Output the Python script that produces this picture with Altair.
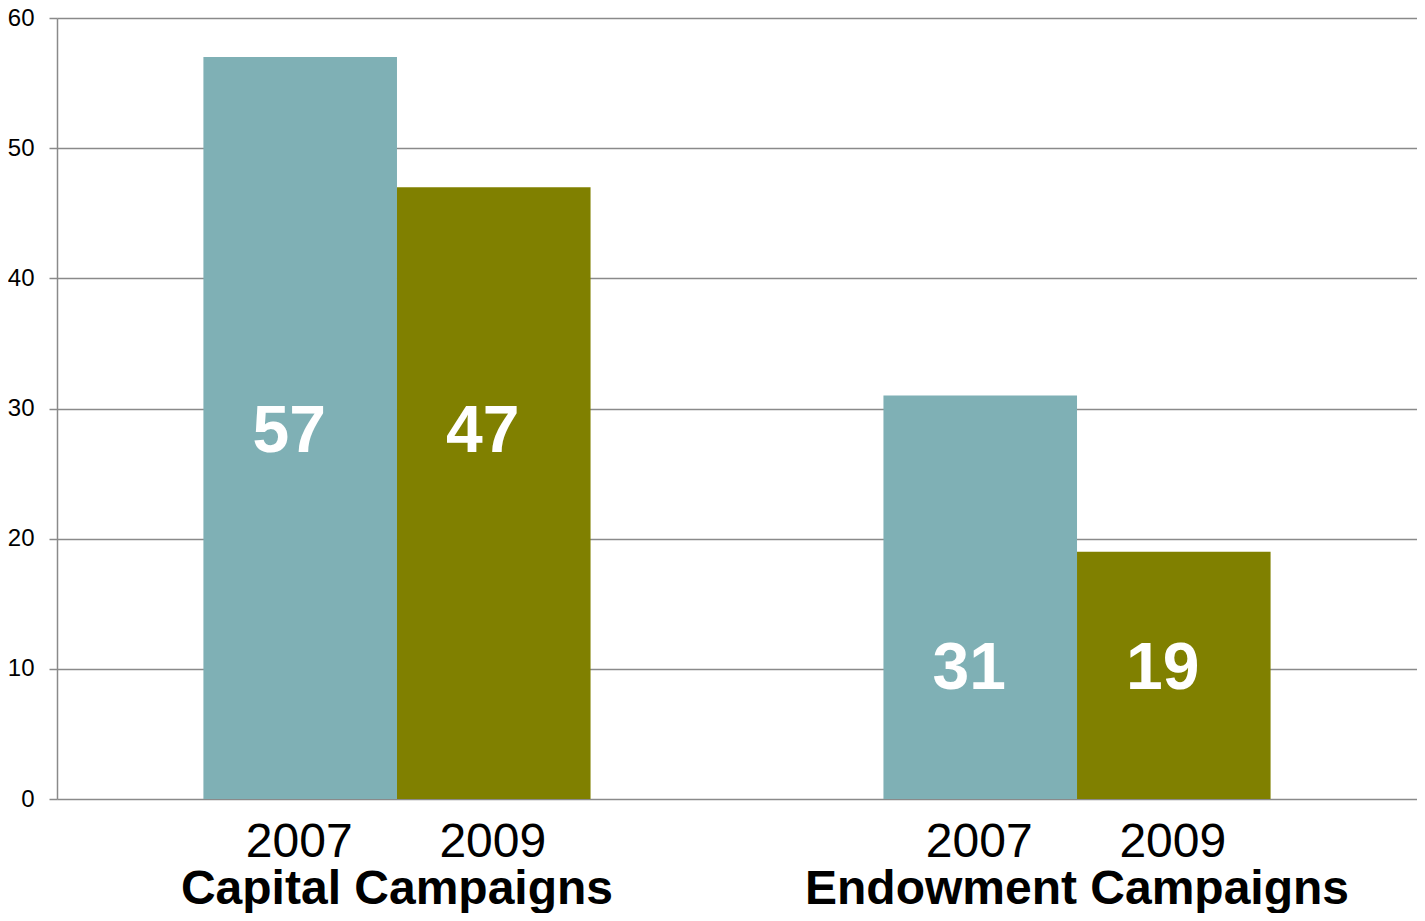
import altair as alt
import pandas as pd

groups = ["Capital Campaigns", "Capital Campaigns", "Endowment Campaigns", "Endowment Campaigns"]
years = ["2007", "2009", "2007", "2009"]
values = [57, 47, 31, 19]
label_pos = [28.2, 28.2, 10.0, 10.0]
y_ticks = [0, 10, 20, 30, 40, 50, 60]

df = pd.DataFrame({"group": groups, "year": years, "value": values, "label_pos": label_pos})

FONT = "Liberation Sans"
GRAY = "#8a8a8a"
W, H = 1360, 781

x = alt.X(
    "group:N",
    sort=None,
    scale=alt.Scale(paddingInner=0.4307, paddingOuter=0.2153),
    axis=alt.Axis(
        title=None, labelAngle=0, labelFontSize=48, labelFontWeight="bold",
        labelFont=FONT, labelColor="black", labelPadding=104,
        labelBaseline="alphabetic", ticks=False, domain=False,
        labelLimit=1000, grid=False,
    ),
)
xoff = alt.XOffset("year:N", scale=alt.Scale(paddingInner=0, paddingOuter=0))

bars = alt.Chart(df).mark_bar().encode(
    x=x,
    xOffset=xoff,
    y=alt.Y(
        "value:Q",
        scale=alt.Scale(domain=[0, 60], nice=False),
        axis=alt.Axis(
            values=y_ticks, title=None, labelFontSize=24, labelFont=FONT,
            labelColor="black", labelPadding=15, tickSize=8, tickColor=GRAY,
            tickWidth=1.5, domainColor=GRAY, domainWidth=1.5,
            gridColor=GRAY, gridWidth=1.5,
        ),
    ),
    color=alt.Color(
        "year:N",
        scale=alt.Scale(domain=["2007", "2009"], range=["#7fb0b5", "#808000"]),
        legend=None,
    ),
)

labels = alt.Chart(df).mark_text(
    color="white", fontSize=66, fontWeight="bold", font=FONT,
    baseline="middle", dx=-11,
).encode(
    x=x,
    xOffset=xoff,
    y=alt.Y("label_pos:Q"),
    text=alt.Text("value:Q"),
)

year_labels = alt.Chart(df).mark_text(
    color="black", fontSize=48, font=FONT, baseline="alphabetic", dx=-1,
).encode(
    x=x,
    xOffset=xoff,
    y=alt.value(H + 58),
    text=alt.Text("year:N"),
)

chart = alt.layer(bars, labels, year_labels).properties(
    width=W,
    height=H,
    autosize=alt.AutoSizeParams(type="none"),
    padding={"left": 49, "top": 10, "right": 0, "bottom": 114},
).configure_view(stroke=None)

chart.save("out.html", embed_options={"renderer": "svg", "actions": False})
